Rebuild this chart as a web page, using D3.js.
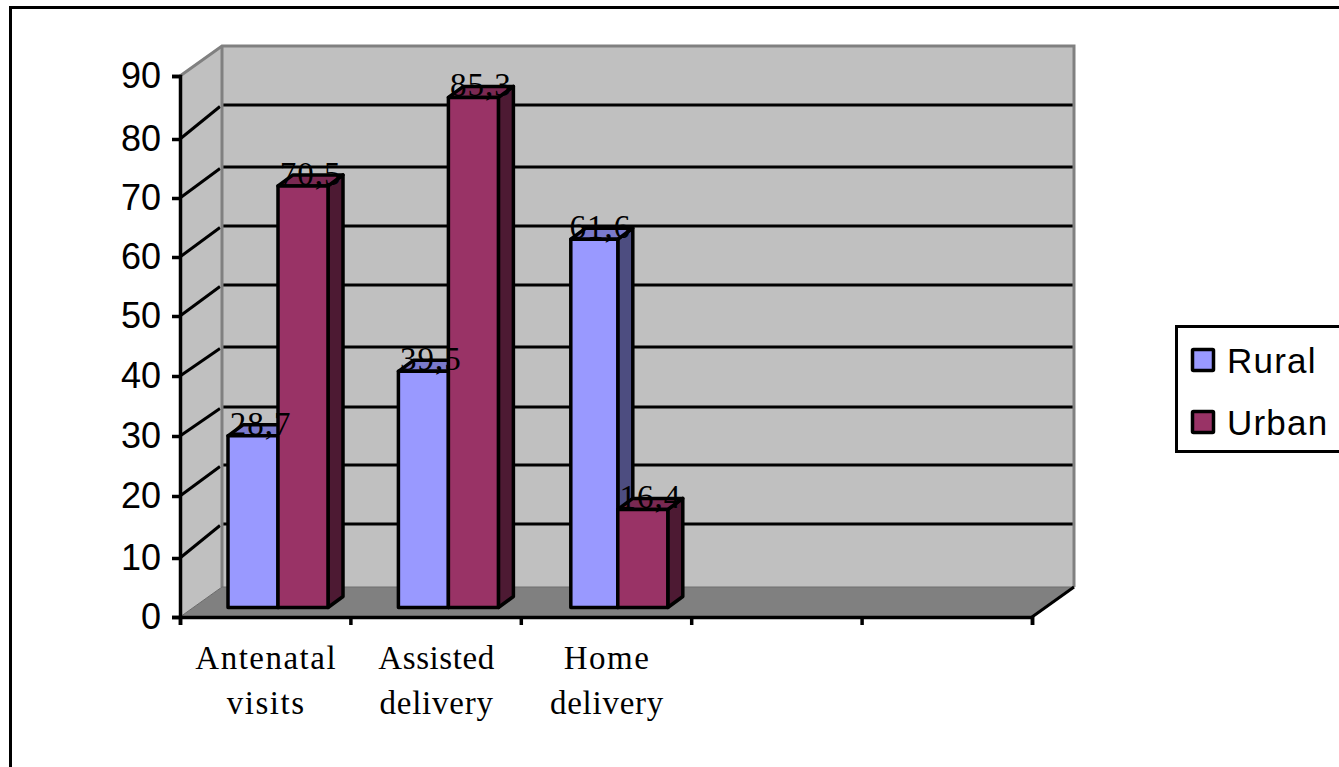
<!DOCTYPE html>
<html><head><meta charset="utf-8">
<script src="https://cdn.jsdelivr.net/npm/d3@7/dist/d3.min.js"></script>
<style>html,body{margin:0;padding:0;background:#fff;overflow:hidden}svg{display:block}</style>
</head><body>
<svg id="c" width="1339" height="767"></svg>
<script>
const categories = [["Antenatal","visits"],["Assisted","delivery"],["Home","delivery"],[],[]];
const categoryKeys = ["a","b","c","d","e"];
const seriesNames = ["Rural","Urban"];
const rural = [28.7,39.5,61.6];
const urban = [70.5,85.3,16.4];
const valueTexts = {Rural:["28,7","39,5","61,6"],Urban:["70,5","85,3","16,4"]};
const yTicks = [0,10,20,30,40,50,60,70,80,90];
const colors = {Rural:{front:"#9999FF",side:"#4D4D80",top:"#7A7ACC"},Urban:{front:"#993366",side:"#4D1A33",top:"#7A2952"}};

// layout (pixel positions of the scale stops in the original raster)
const frontStops=[617,558,496,436,376,316,257,198,139,76];
const backStops=[587,524,465,407,347,285,226,167,105,46];
const catSpacing=[[1.5,1.5],[0.6,0.75],[1.5,0.75],[],[]];
const groupShift=[0,0,-1], ruralTrim=[0,0,3];

const svg = d3.select("#c");
const X0=180,X1=1032,DX=42;
const x = d3.scaleBand().domain(categoryKeys).range([X0,X1]);
const y = d3.scaleLinear().domain(yTicks).range(frontStops);
const yBack = d3.scaleLinear().domain(yTicks).range(backStops);
const yBar = d3.scaleLinear().domain([0,90]).range([607.5,69.3]);
const inner = d3.scaleBand().domain(seriesNames).range([34,134]);
const barDX=15,barDY=-11,barShift=14;
const S="#000";
const poly=(pts,fill,stroke,sw)=>svg.append("polygon").attr("points",pts.map(p=>p.join(",")).join(" "))
  .attr("fill",fill).attr("stroke",stroke||"none").attr("stroke-width",sw||0).attr("stroke-linejoin","round");
const line=(a,b,stroke,sw)=>svg.append("line").attr("x1",a[0]).attr("y1",a[1]).attr("x2",b[0]).attr("y2",b[1]).attr("stroke",stroke).attr("stroke-width",sw);

// outer frame (left and top only reach the picture)
svg.append("path").attr("d","M10.5,767V7.5H1339").attr("fill","none").attr("stroke","#000").attr("stroke-width",3);

// walls & floor
poly([[X0+DX,yBack(90)],[X1+DX,yBack(90)],[X1+DX,yBack(0)],[X0+DX,yBack(0)]],"#C0C0C0");
poly([[X0,y(90)],[X0+DX,yBack(90)],[X0+DX,yBack(0)],[X0,y(0)]],"#C0C0C0");
poly([[X0,y(0)],[X0+DX,yBack(0)],[X1+DX,yBack(0)],[X1,y(0)]],"#808080");

// gridlines
yTicks.filter(t=>t>0&&t<90).forEach(t=>{
  line([X0+DX,yBack(t)],[X1+DX-1,yBack(t)],S,3);
  line([X0,y(t)],[X0+DX-2,yBack(t)+1.5],S,3);
});
// wall edges
svg.append("path").attr("d",`M${X0},${y(90)}L${X0+DX},${yBack(90)}H${X1+DX}V${yBack(0)}`).attr("fill","none").attr("stroke","#808080").attr("stroke-width",3);
line([X0+DX,yBack(90)],[X0+DX,yBack(0)],"#808080",3);
line([X0,y(0)],[X0+DX,yBack(0)],"#6a6a6a",1);
line([X0+DX,yBack(0)],[X1+DX,yBack(0)],"#6e6e6e",1);

// axes
const gy=svg.append("g").attr("transform",`translate(${X0},0)`)
  .call(d3.axisLeft(y).tickValues(yTicks).tickSize(8).tickPadding(11));
gy.selectAll("path,line").attr("stroke",S).attr("stroke-width",3.5);
gy.selectAll("text").attr("font-family","'Liberation Sans',Arial,sans-serif").attr("font-size",36).attr("fill","#000").attr("dy","11px");
const xTickVals=categoryKeys.map(k=>x(k)).concat([X1]);
const gx=svg.append("g").attr("transform",`translate(0,${y(0)})`)
  .call(d3.axisBottom(d3.scaleLinear().domain([X0,X1]).range([X0,X1])).tickValues(xTickVals).tickSize(8).tickFormat(""));
gx.selectAll("path,line").attr("stroke",S).attr("stroke-width",3.5);
line([X1,y(0)],[X1+DX,yBack(0)],S,3);

// category labels
categoryKeys.forEach((k,i)=>categories[i].forEach((s,j)=>{
  svg.append("text").attr("x",x(k)+x.bandwidth()/2+1).attr("y",669+j*44.5).attr("text-anchor","middle")
    .attr("font-family","'Liberation Serif','Times New Roman',serif").attr("font-size",33).attr("letter-spacing",catSpacing[i][j]).attr("fill","#000").text(s);
}));

// bars
const sw=3.5;
const series={Rural:rural,Urban:urban};
const labels=[];
categoryKeys.slice(0,3).forEach((k,i)=>{
  seriesNames.forEach(n=>{
    const v=series[n][i], c=colors[n];
    const l0=x(k)+barShift+inner(n)+groupShift[i], r=l0+inner.bandwidth(), t=yBar(v), b=yBar(0);
    const l=n==="Rural"?l0+ruralTrim[i]:l0;
    poly([[r,t],[r+barDX,t+barDY],[r+barDX,b+barDY],[r,b]],c.side,S,sw);
    poly([[l,t],[l+barDX,t+barDY],[r+barDX,t+barDY],[r,t]],c.top,S,sw);
    poly([[l,t],[r,t],[r,b],[l,b]],c.front,S,sw);
    labels.push({x:(l0+r)/2+barDX/2,y:t-1,s:valueTexts[n][i]});
  });
});
labels.forEach(d=>svg.append("text").attr("x",d.x).attr("y",d.y).attr("text-anchor","middle")
  .attr("font-family","'Liberation Serif','Times New Roman',serif").attr("font-size",33).attr("letter-spacing",1).attr("fill","#000").text(d.s));

// legend
svg.append("rect").attr("x",1176.5).attr("y",326.5).attr("width",170).attr("height",125).attr("fill","#fff").attr("stroke",S).attr("stroke-width",3);
seriesNames.forEach((n,i)=>{
  const cy=360+i*62;
  svg.append("rect").attr("x",1192.5).attr("y",cy-10.5).attr("width",21).attr("height",21).attr("rx",1).attr("fill",colors[n].front).attr("stroke",S).attr("stroke-width",3.5);
  svg.append("text").attr("x",1227).attr("y",cy+13).attr("font-family","'Liberation Sans',Arial,sans-serif").attr("font-size",35).attr("letter-spacing",1.2).attr("fill","#000").text(n);
});
</script>
</body></html>
